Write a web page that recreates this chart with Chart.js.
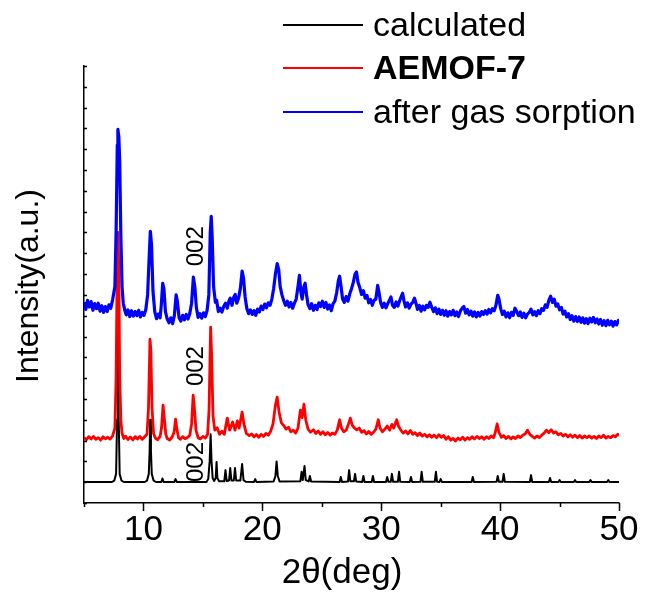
<!DOCTYPE html>
<html>
<head>
<meta charset="utf-8">
<script src="https://cdn.jsdelivr.net/npm/chart.js@4"></script>
<style>
body { margin: 0; background: #fff; }
canvas { display: block; }
</style>
</head>
<body>
<canvas id="xrd-chart" width="648" height="596"></canvas>
<script>
const seriesNames = ['calculated', 'AEMOF-7', 'after gas sorption'];
const xTickLabels = [10, 20, 30, 40, 50];
const peakLabel = '002';
const peakLabelX = 14.33;
const peakLabelY = [19.7, 65.8, 123.4];

const calculated = [
    [5.0,10.1],[7.35,10.1],[7.55,10.8],[7.7,14],[7.78,40],[7.85,121],[7.92,40],[8.0,14],[8.15,10.8],[8.35,10.1],
    [10.1,10.1],[10.3,10.8],[10.45,14],[10.52,25],[10.57,40],[10.63,25],[10.7,14],[10.85,10.8],[11.05,10.1],
    [11.5,10.1],[11.6,11.8],[11.7,10.1],[12.6,10.1],[12.7,11.5],[12.8,10.1],
    [15.3,10.1],[15.45,11.5],[15.57,20],[15.65,33],[15.73,20],[15.82,12],[15.95,10.6],[16.08,12],[16.15,19.7],[16.22,12],[16.35,10.5],
    [16.8,10.5],[16.9,15.8],[17.0,10.6],[17.2,10.8],[17.3,16.8],[17.4,10.8],[17.6,10.8],[17.7,16.8],[17.8,10.8],
    [18.15,10.8],[18.3,18.7],[18.42,11],[18.6,10.2],[19.3,10.1],[19.4,11.5],[19.5,10.1],
    [20.95,10.3],[21.1,13],[21.2,20],[21.3,13],[21.45,10.3],
    [23.2,10.5],[23.3,15],[23.4,11],[23.55,17.8],[23.65,11],[23.9,10.4],[24.0,13],[24.1,10.3],
    [26.5,10.1],[26.6,12.5],[26.7,10.1],[27.2,10.3],[27.3,15.8],[27.4,10.5],[27.7,10.4],[27.8,14],[27.9,10.3],
    [28.4,10.1],[28.5,13],[28.6,10.1],[29.2,10.1],[29.3,13],[29.4,10.1],
    [30.4,10.1],[30.5,12.5],[30.6,10.2],[30.8,10.2],[30.9,14],[31.0,10.2],[31.4,10.2],[31.5,15],[31.6,10.2],
    [32.4,10.1],[32.5,12.5],[32.6,10.1],[33.3,10.2],[33.4,15],[33.5,10.2],
    [34.5,10.2],[34.6,15],[34.7,10.2],[34.9,10.1],[35.0,11.5],[35.1,10.1],
    [37.6,10.1],[37.7,12.5],[37.8,10.1],[39.7,10.2],[39.8,13],[39.9,10.2],[40.2,10.2],[40.3,14],[40.4,10.2],
    [42.5,10.1],[42.6,13.4],[42.7,10.1],[44.1,10.1],[44.2,12],[44.3,10.1],[44.9,10.1],[45.0,11],[45.1,10.1],
    [46.2,10.1],[46.3,11],[46.4,10.1],[47.5,10.1],[47.6,11],[47.7,10.1],[49.0,10.1],[49.1,11],[49.2,10.1],[50.0,10.1]
];

const aemof7 = [
    [5.0,31.5],[5.2,30.4],[5.4,31.9],[5.6,30.8],[5.8,32.0],[6.0,30.6],[6.2,31.4],[6.4,30.2],[6.6,31.8],[6.8,30.9],
    [7.0,31.6],[7.2,30.7],[7.4,32.2],[7.6,36],[7.7,60],[7.8,118],[7.85,130],[7.93,112],[8.0,62],[8.1,40],[8.2,33.5],
    [8.35,31.0],[8.5,32.1],[8.7,30.5],[8.9,31.7],[9.1,30.3],[9.3,31.9],[9.5,30.8],[9.7,32.0],[9.9,30.6],[10.1,31.8],
    [10.3,33],[10.42,45],[10.55,78.7],[10.62,74],[10.72,46],[10.85,33.5],[11.0,31.2],[11.2,30.4],[11.4,32.0],
    [11.52,36],[11.65,47],[11.75,41],[11.88,33],[12.0,31.0],[12.2,30.2],[12.4,31.6],[12.58,34],[12.7,40.3],[12.8,36],
    [12.95,31.4],[13.1,30.6],[13.3,31.9],[13.5,30.9],[13.7,31.5],[13.9,32.6],[14.05,38],[14.18,51.8],[14.28,46],
    [14.42,35],[14.6,31.3],[14.8,30.8],[15.0,32.0],[15.2,31.2],[15.4,33],[15.52,45],[15.65,84.5],[15.73,72],
    [15.85,42],[16.0,35],[16.2,36.2],[16.4,33],[16.6,34.5],[16.8,33],[17.05,40.8],[17.25,35],[17.5,38.9],[17.7,35],
    [17.9,39.5],[18.05,36],[18.3,43.7],[18.45,38],[18.65,33.5],[18.9,32.4],[19.1,33.2],[19.3,31.8],[19.5,32.9],
    [19.7,31.6],[19.9,33.0],[20.1,32.0],[20.3,33.4],[20.5,32.6],[20.7,34.5],[20.9,38],[21.1,47],[21.25,50.9],
    [21.4,44],[21.6,38.5],[21.8,37.2],[22.0,35.5],[22.2,36.4],[22.4,34.2],[22.6,35.0],[22.8,33.6],[23.0,36],
    [23.2,44.6],[23.35,41],[23.5,47.5],[23.65,40],[23.85,35.5],[24.05,34.0],[24.3,35.2],[24.5,33.4],[24.7,34.6],
    [24.9,33.0],[25.1,34.2],[25.3,32.8],[25.5,33.9],[25.7,32.6],[25.9,33.6],[26.1,33.0],[26.3,35],[26.5,40],
    [26.65,36],[26.85,34.2],[27.05,35.0],[27.25,38],[27.4,40.8],[27.55,37.5],[27.75,36.0],[27.95,35.2],[28.15,36.0],
    [28.35,34.0],[28.55,34.8],[28.75,33.2],[28.95,34.4],[29.15,33.0],[29.35,34.0],[29.55,35.5],[29.75,40],[29.9,36],
    [30.1,34.2],[30.3,35.4],[30.5,37],[30.7,35],[30.9,37.8],[31.05,36],[31.3,40],[31.45,37],[31.65,35.0],[31.85,33.6],
    [32.05,34.6],[32.25,33.2],[32.45,34.8],[32.65,33.0],[32.85,33.8],[33.05,32.4],[33.25,33.6],[33.45,32.2],
    [33.65,33.0],[33.85,31.8],[34.05,32.8],[34.25,31.6],[34.45,32.6],[34.65,31.4],[34.85,32.8],[35.05,31.6],
    [35.25,32.4],[35.45,30.6],[35.65,31.8],[35.85,30.2],[36.05,31.0],[36.25,29.8],[36.45,31.2],[36.65,30.4],
    [36.85,31.6],[37.05,30.2],[37.25,31.4],[37.45,30.6],[37.65,31.8],[37.85,30.8],[38.05,32.0],[38.25,31.0],
    [38.45,31.8],[38.65,30.6],[38.85,31.9],[39.05,31.0],[39.25,32.2],[39.45,31.4],[39.6,34],[39.75,38],[39.9,34],
    [40.1,31.6],[40.3,32.4],[40.5,31.0],[40.7,32.0],[40.9,30.8],[41.1,31.8],[41.3,31.0],[41.5,32.2],[41.7,31.4],
    [41.9,32.6],[42.1,33.2],[42.3,35],[42.5,33.0],[42.7,32.0],[42.9,31.2],[43.1,32.2],[43.3,31.4],[43.5,32.6],
    [43.7,33.6],[43.9,35],[44.1,33.8],[44.3,35.2],[44.5,33.6],[44.7,34.2],[44.9,32.8],[45.1,33.4],[45.3,32.2],
    [45.5,33.0],[45.7,31.8],[45.9,32.8],[46.1,31.6],[46.3,32.6],[46.5,31.4],[46.7,32.4],[46.9,31.2],[47.1,32.2],
    [47.3,31.4],[47.5,32.2],[47.7,31.2],[47.9,32.0],[48.1,31.0],[48.3,32.2],[48.5,31.4],[48.7,32.6],[48.9,31.2],
    [49.1,32.0],[49.3,31.4],[49.5,32.4],[49.7,31.8],[49.9,33.0],[50.0,32.4]
];

const afterSorption = [
    [5.0,96.5],[5.15,93.0],[5.3,97.4],[5.45,94.2],[5.6,96.8],[5.75,92.6],[5.9,95.8],[6.05,93.4],[6.2,96.0],[6.35,92.2],
    [6.5,94.8],[6.65,91.6],[6.8,94.4],[6.95,92.0],[7.1,95.2],[7.25,93.6],[7.4,97.5],[7.6,104],[7.7,130],[7.8,172],
    [7.85,179.5],[7.93,176],[8.0,165],[8.1,128],[8.2,104],[8.3,96],[8.45,92.2],[8.55,90.4],[8.7,92.8],[8.85,89.6],
    [9.0,92.4],[9.15,89.8],[9.3,92.0],[9.45,90.0],[9.6,92.6],[9.75,89.4],[9.9,91.6],[10.05,90.2],[10.2,93],
    [10.35,100],[10.48,118],[10.58,130.6],[10.68,124],[10.8,102],[10.95,92],[11.1,88.6],[11.25,90.8],[11.4,89.0],
    [11.5,95],[11.62,105.6],[11.72,103],[11.85,92],[12.0,88.4],[12.15,86.6],[12.3,89.0],[12.45,86.2],[12.6,90],
    [12.75,100],[12.85,97],[13.0,89],[13.15,87.4],[13.3,90.2],[13.45,88.0],[13.6,90.6],[13.75,88.4],[13.9,91.2],
    [14.05,96],[14.2,108.5],[14.32,104],[14.45,94],[14.6,89.2],[14.75,91.0],[14.9,88.8],[15.05,91.4],[15.2,89.6],
    [15.35,92.4],[15.5,100],[15.62,130],[15.7,137.8],[15.78,128],[15.9,104],[16.05,96.4],[16.15,97.5],[16.3,92],
    [16.45,93.6],[16.6,91.8],[16.75,94.4],[16.9,96.0],[17.05,93.6],[17.2,97.2],[17.3,98.4],[17.45,95],[17.6,99],
    [17.72,100.2],[17.85,96],[18.0,98.4],[18.15,103],[18.3,111.4],[18.42,108],[18.55,99],[18.7,93.4],[18.85,91.0],
    [19.0,92.8],[19.15,90.6],[19.3,92.4],[19.45,90.2],[19.6,93.2],[19.75,91.8],[19.9,94.6],[20.05,93.0],[20.2,95.6],
    [20.35,93.8],[20.5,96.2],[20.65,95.0],[20.8,98],[20.95,103],[21.1,110],[21.25,115],[21.38,112],[21.5,104],
    [21.65,100],[21.8,97.2],[21.95,95.0],[22.1,97.0],[22.25,94.2],[22.4,96.4],[22.55,93.6],[22.7,96.0],[22.85,98],
    [23.0,104],[23.12,109.4],[23.25,101],[23.35,98],[23.5,104],[23.6,105.6],[23.72,100],[23.85,95.2],[24.0,93.4],
    [24.15,95.8],[24.3,92.6],[24.45,95.0],[24.6,93.0],[24.75,96.2],[24.9,94.4],[25.05,97.0],[25.2,94.0],[25.35,96.4],
    [25.5,93.2],[25.65,95.2],[25.8,92.4],[25.95,95.8],[26.1,97],[26.25,101],[26.4,107],[26.5,109],[26.62,104],
    [26.75,98],[26.9,96.4],[27.05,99.2],[27.2,97.0],[27.35,100.4],[27.5,103],[27.65,106],[27.8,110],[27.92,111],
    [28.05,106],[28.2,103.4],[28.35,100.2],[28.5,102.0],[28.65,98.4],[28.8,99.8],[28.95,96.2],[29.1,97.8],[29.25,95.0],
    [29.4,97.4],[29.55,98],[29.7,104.6],[29.82,101],[29.95,96.4],[30.1,94.0],[30.25,96.0],[30.4,93.8],[30.55,95.8],
    [30.7,97.6],[30.82,99],[30.95,95],[31.1,94.0],[31.25,96.6],[31.4,94.6],[31.55,97.2],[31.7,99.4],[31.8,100.8],
    [31.92,97],[32.05,94.2],[32.2,96.2],[32.35,93.6],[32.5,95.6],[32.65,96.4],[32.8,98.4],[32.92,96],[33.05,93.0],
    [33.2,95.0],[33.35,92.2],[33.5,94.6],[33.65,92.8],[33.8,95.0],[33.95,94.0],[34.1,96.5],[34.25,94.0],[34.4,92.0],
    [34.55,93.8],[34.7,91.0],[34.85,93.2],[35.0,90.6],[35.15,92.6],[35.3,90.2],[35.45,92.4],[35.6,89.8],[35.75,92.0],
    [35.9,90.4],[36.05,92.6],[36.2,90.0],[36.35,91.8],[36.5,89.6],[36.65,92.2],[36.8,93.6],[36.95,94.4],[37.1,91.2],
    [37.25,93.0],[37.4,90.4],[37.55,92.2],[37.7,89.8],[37.85,91.8],[38.0,89.4],[38.15,91.6],[38.3,89.8],[38.45,92.0],
    [38.6,90.6],[38.75,92.4],[38.9,90.8],[39.05,93.0],[39.2,91.4],[39.35,93.4],[39.5,92.4],[39.65,95],[39.8,99.8],
    [39.9,98],[40.05,93.4],[40.2,90.6],[40.35,92.2],[40.5,89.4],[40.65,91.4],[40.8,89.0],[40.95,91.6],[41.1,90.2],
    [41.25,93.6],[41.4,92.0],[41.55,90.0],[41.7,91.8],[41.85,89.2],[42.0,91.2],[42.15,89.0],[42.3,90.8],[42.45,91.6],
    [42.6,93.2],[42.75,90.4],[42.9,92.0],[43.05,90.0],[43.2,92.4],[43.35,91.0],[43.5,93.4],[43.65,92.6],[43.8,95.2],
    [43.95,94.0],[44.1,97.4],[44.25,99.4],[44.4,96.4],[44.55,98.0],[44.7,94.6],[44.85,95.6],[45.0,92.8],[45.15,94.0],
    [45.3,90.8],[45.45,92.2],[45.6,89.4],[45.75,91.0],[45.9,88.2],[46.05,90.0],[46.2,87.4],[46.35,89.6],[46.5,87.2],
    [46.65,89.4],[46.8,86.8],[46.95,89.0],[47.1,86.4],[47.25,88.6],[47.4,86.2],[47.55,88.8],[47.7,87.0],[47.85,89.2],
    [48.0,86.6],[48.15,88.4],[48.3,86.0],[48.45,88.2],[48.6,85.4],[48.75,87.6],[48.9,85.2],[49.05,87.8],[49.2,85.6],
    [49.35,87.4],[49.5,85.0],[49.65,87.2],[49.8,85.6],[49.95,87.8],[50.0,86.8]
];

const seriesColors = ['#000000', '#ff0000', '#0000ff'];
const FONT = "'Liberation Sans', Arial, sans-serif";

// axis ticks, titles, "002" marks and the legend
const decorPlugin = {
    id: 'decor',
    afterDraw(chart) {
        const ctx = chart.ctx;
        const x = chart.scales.x;
        const y = chart.scales.y;
        const area = chart.chartArea;
        ctx.save();
        ctx.strokeStyle = '#000';
        ctx.lineWidth = 1.5;
        ctx.beginPath();
        y.ticks.forEach(t => {
            const py = Math.round(y.getPixelForValue(t.value)) + 0.5;
            ctx.moveTo(area.left, py);
            ctx.lineTo(area.left + 3, py);
        });
        x.ticks.forEach(t => {
            const px = Math.round(x.getPixelForValue(t.value)) + 0.5;
            const len = t.value % 10 === 0 ? 8 : 4;
            ctx.moveTo(px, area.bottom);
            ctx.lineTo(px, area.bottom + len);
        });
        ctx.stroke();

        ctx.fillStyle = '#000';
        ctx.textAlign = 'center';
        ctx.textBaseline = 'alphabetic';
        ctx.font = '35px ' + FONT;
        ctx.fillText('2θ(deg)', 342, 583);

        ctx.save();
        ctx.translate(38, 286);
        ctx.rotate(-Math.PI / 2);
        ctx.font = '32px ' + FONT;
        ctx.fillText('Intensity(a.u.)', 0, 0);
        ctx.restore();

        ctx.font = '24px ' + FONT;
        peakLabelY.forEach(v => {
            ctx.save();
            ctx.translate(x.getPixelForValue(peakLabelX) + 8, y.getPixelForValue(v));
            ctx.rotate(-Math.PI / 2);
            ctx.fillText(peakLabel, 0, 0);
            ctx.restore();
        });

        const rowY = [25, 68, 112];
        ctx.textAlign = 'left';
        seriesNames.forEach((name, i) => {
            ctx.strokeStyle = seriesColors[i];
            ctx.lineWidth = 2;
            ctx.beginPath();
            ctx.moveTo(283, rowY[i]);
            ctx.lineTo(363, rowY[i]);
            ctx.stroke();
            ctx.font = (i === 1 ? 'bold ' : '') + '34px ' + FONT;
            ctx.fillStyle = '#000';
            ctx.fillText(name, 373, rowY[i] + 11);
        });
        ctx.restore();
    }
};

const ctx = document.getElementById('xrd-chart').getContext('2d');
new Chart(ctx, {
    type: 'line',
    data: {
        datasets: [
            { label: seriesNames[2], data: afterSorption, borderColor: seriesColors[2], borderWidth: 3.2 },
            { label: seriesNames[1], data: aemof7, borderColor: seriesColors[1], borderWidth: 2.8 },
            { label: seriesNames[0], data: calculated, borderColor: seriesColors[0], borderWidth: 2 }
        ]
    },
    options: {
        responsive: false,
        animation: false,
        devicePixelRatio: 1,
        layout: { padding: { top: 66, right: 29, left: 0, bottom: 0 } },
        elements: {
            point: { radius: 0 },
            line: { tension: 0, borderJoinStyle: 'round', fill: false }
        },
        plugins: {
            legend: { display: false },
            tooltip: { enabled: false }
        },
        scales: {
            x: {
                type: 'linear',
                min: 5,
                max: 50,
                afterFit: s => { s.height = 93; },
                ticks: {
                    stepSize: 5,
                    autoSkip: false,
                    maxRotation: 0,
                    padding: 6,
                    color: '#000',
                    font: { family: FONT, size: 35 },
                    callback: v => xTickLabels.includes(v) ? String(v) : ''
                },
                grid: { display: true, drawOnChartArea: false, drawTicks: false, color: '#000', lineWidth: 1.5 },
                border: { display: true, color: '#000', width: 1.5 }
            },
            y: {
                min: 0,
                max: 210,
                afterFit: s => { s.width = 84; },
                ticks: { stepSize: 10, display: false },
                grid: { display: false, drawTicks: false },
                border: { display: true, color: '#000', width: 1.5 }
            }
        }
    },
    plugins: [decorPlugin]
});
</script>
</body>
</html>
